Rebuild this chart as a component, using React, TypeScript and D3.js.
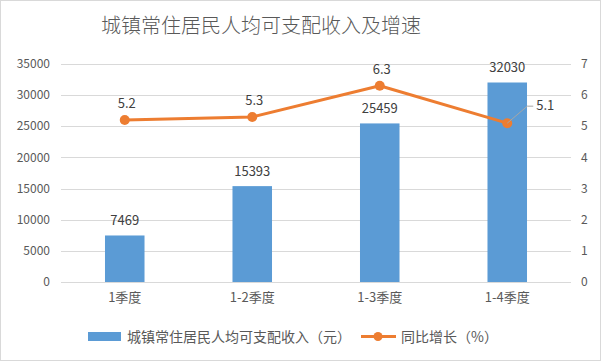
import React, { useEffect, useRef } from 'react';
import * as d3 from 'd3';

const categories = ['1季度', '1-2季度', '1-3季度', '1-4季度'];
const income = [7469, 15393, 25459, 32030];
const growth = [5.2, 5.3, 6.3, 5.1];
const leftTicks = [0, 5000, 10000, 15000, 20000, 25000, 30000, 35000];
const rightTicks = [0, 1, 2, 3, 4, 5, 6, 7];
const title = '城镇常住居民人均可支配收入及增速';
const barName = '城镇常住居民人均可支配收入（元）';
const lineName = '同比增长（%）';

export default function App() {
    const ref = useRef<SVGSVGElement | null>(null);
    useEffect(() => {
        const svg = d3.select(ref.current);
        svg.selectAll('*').remove();
        const width = 602, height = 362;
        const margin = { top: 64, right: 31, bottom: 80, left: 61 };
        const font = '"Noto Sans CJK SC", "Noto Sans", sans-serif';
        const blue = '#5B9BD5', orange = '#ED7D31';

        svg.attr('viewBox', `0 0 ${width} ${height}`).style('font-family', font);
        svg.append('rect').attr('x', 0.5).attr('y', 0.5).attr('width', width - 2).attr('height', height - 2)
            .attr('fill', '#fff').attr('stroke', '#d9d9d9');

        const x = d3.scaleBand().domain(categories).range([margin.left, width - margin.right]).paddingInner(0.69).paddingOuter(0.345);
        const y = d3.scaleLinear().domain([0, 35000]).range([height - margin.bottom, margin.top]);
        const y2 = d3.scaleLinear().domain([0, 7]).range([height - margin.bottom, margin.top]);
        const cx = (c: string) => (x(c) as number) + x.bandwidth() / 2;

        svg.append('text').attr('x', 261).attr('y', 33).attr('text-anchor', 'middle')
            .attr('font-size', 20).attr('font-weight', 300).attr('fill', '#595959').text(title);

        // grid
        svg.append('g').selectAll('line').data(leftTicks).join('line')
            .attr('x1', margin.left).attr('x2', width - margin.right)
            .attr('y1', d => Math.round(y(d)) + 0.5).attr('y2', d => Math.round(y(d)) + 0.5)
            .attr('stroke', '#d9d9d9');

        svg.append('g').selectAll('text').data(leftTicks).join('text')
            .attr('x', 50).attr('y', d => y(d)).attr('dy', '0.35em').attr('text-anchor', 'end')
            .attr('font-size', 12).attr('fill', '#595959').text(d => d);
        svg.append('g').selectAll('text').data(rightTicks).join('text')
            .attr('x', 581).attr('y', d => y2(d)).attr('dy', '0.35em').attr('text-anchor', 'start')
            .attr('font-size', 12).attr('fill', '#595959').text(d => d);

        svg.append('g').selectAll('text').data(categories).join('text')
            .attr('x', d => cx(d)).attr('y', 302).attr('text-anchor', 'middle')
            .attr('font-size', 13).attr('fill', '#595959').text(d => d);

        // bars
        svg.append('g').selectAll('rect').data(income).join('rect')
            .attr('x', (d, i) => x(categories[i]) as number).attr('width', x.bandwidth())
            .attr('y', d => y(d)).attr('height', d => y(0) - y(d)).attr('fill', blue);
        svg.append('g').selectAll('text').data(income).join('text')
            .attr('x', (d, i) => cx(categories[i])).attr('y', d => y(d) - 10).attr('text-anchor', 'middle')
            .attr('font-size', 13).attr('fill', '#404040').text(d => d);

        // line
        const line = d3.line<number>().x((d, i) => cx(categories[i])).y(d => y2(d));
        svg.append('path').datum(growth).attr('d', line).attr('fill', 'none')
            .attr('stroke', orange).attr('stroke-width', 3).attr('stroke-linejoin', 'round');
        svg.append('g').selectAll('circle').data(growth).join('circle')
            .attr('cx', (d, i) => cx(categories[i])).attr('cy', d => y2(d)).attr('r', 5).attr('fill', orange);

        const last = growth.length - 1;
        const lx = cx(categories[last]), ly = y2(growth[last]);
        svg.append('path').attr('d', `M${lx},${ly} L${lx + 20},${ly - 17} L${lx + 26},${ly - 17}`)
            .attr('fill', 'none').attr('stroke', '#a6a6a6').attr('stroke-width', 1);
        svg.append('g').selectAll('text').data(growth).join('text')
            .attr('x', (d, i) => i === last ? lx + 29 : cx(categories[i]) + 2)
            .attr('y', (d, i) => i === last ? ly - 13 : y2(d) - 12)
            .attr('text-anchor', (d, i) => i === last ? 'start' : 'middle')
            .attr('font-size', 13).attr('fill', '#404040').text(d => d.toFixed(1));

        // legend
        const lg = svg.append('g').attr('font-size', 14).attr('fill', '#595959');
        lg.append('rect').attr('x', 88).attr('y', 332).attr('width', 33).attr('height', 9).attr('fill', blue);
        lg.append('text').attr('x', 127).attr('y', 342).text(barName);
        lg.append('line').attr('x1', 361).attr('x2', 396).attr('y1', 336.5).attr('y2', 336.5)
            .attr('stroke', orange).attr('stroke-width', 3);
        lg.append('circle').attr('cx', 378).attr('cy', 336.5).attr('r', 4.5).attr('fill', orange);
        lg.append('text').attr('x', 401).attr('y', 342).text(lineName);
    }, []);
    return (
        <div style={{ position: 'fixed', left: 0, top: 0 }}>
            <svg ref={ref} width={602} height={362} style={{ display: 'block' }} />
        </div>
    );
}
